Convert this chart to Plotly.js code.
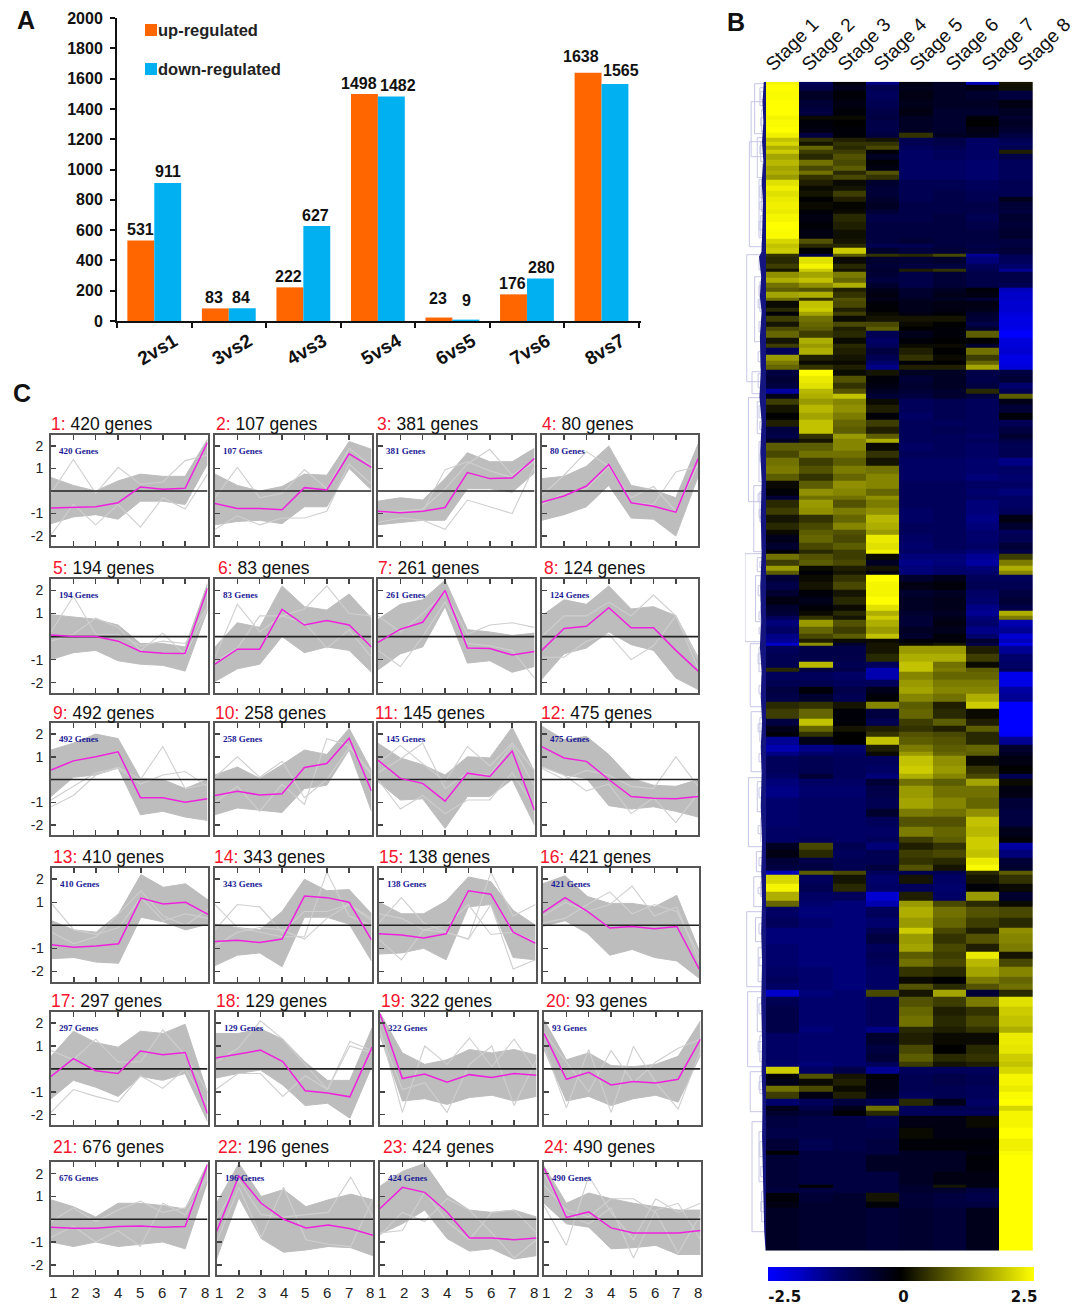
<!DOCTYPE html>
<html><head><meta charset="utf-8">
<script src="https://cdn.plot.ly/plotly-3.0.1.min.js"></script>
<style>html,body{margin:0;padding:0;background:#fff}#c{width:1083px;height:1306px}</style>
</head><body><div id="c"></div>
<script>
// ---------- Panel A data ----------
const comparisons=['2vs1','3vs2','4vs3','5vs4','6vs5','7vs6','8vs7'];
const upRegulated=[531,83,222,1498,23,176,1638];
const downRegulated=[911,84,627,1482,9,280,1565];

// ---------- Panel B data (row start, then stage 1..8 log ratio) ----------
const stageNames=['Stage 1','Stage 2','Stage 3','Stage 4','Stage 5','Stage 6','Stage 7','Stage 8'];
const heatRowCount=1169;
const heatBands=[
[0,2.4,-1.0,-.1,-1.4,-.2,-.4,-1.8,.2],[3,2.5,-.8,-.3,-.9,-.3,-.4,-.2,.15],[9,2.45,-.4,-.1,-1,-.2,-.4,-.5,-.7],
[18,2.5,-.6,-.2,-.9,-.3,-.4,-.4,-.2],[26,2.5,-.7,-.1,-.8,-.2,-.5,-.5,-.4],[34,2.4,.1,.1,-.7,-.4,-.5,-.1,-.5],
[38,2.45,-.1,.0,-.8,-.4,-.5,.0,-.4],[45,2.5,-.2,-.1,-.8,-.4,-.5,-.2,-.5],[51,2.35,-.7,-.1,-.7,.5,-.4,-.3,-.7],
[56,1.9,.5,.3,.2,-.9,-.8,-1.1,-.9],[60,2.1,.2,.5,.5,-.9,-.8,-1.1,-1],[64,1.7,1.0,.4,.7,-1,-.9,-1.1,-.9],
[68,2.0,.6,.6,-.1,-1.1,-1,-1.1,.3],[72,1.6,.4,.8,-.4,-1.1,-1,-1.1,-.8],[78,1.8,1.1,.7,-.1,-1.1,-1.1,-1.2,-1],
[84,1.6,.7,.9,-.2,-1.1,-1.1,-1.2,-1],[89,1.7,1.1,.4,.8,-1.1,-1.1,-1.2,-1],[93,1.5,.5,.7,.5,-1.1,-1.1,-1.2,-1],
[98,2.2,.3,.1,-.5,-.9,-.9,-1,-.9],[104,2.35,.1,.2,-.6,-.9,-.9,-1,-.9],[109,2.2,.2,.6,-.6,-.9,-.8,-.9,-.9],
[115,2.3,.0,.3,-.5,-.9,-.8,-.9,-.3],[120,2.35,.1,.05,-.4,-.8,-.8,-.8,-.6],[128,2.3,-.1,.1,-.6,-.8,-.8,-.8,-.7],
[132,2.4,-.2,.4,-.8,-.8,-.7,-.9,-.5],[140,2.5,-.1,.3,-.7,-.7,-.7,-.8,-.6],[148,2.45,-.2,.15,-.7,-.7,-.7,-.7,-.5],
[157,2.1,.8,.2,-.7,-.6,-.7,-.7,-.7],[162,1.9,.4,.4,-.9,-.9,-.7,-.8,-.7],[166,2.0,.0,2.0,-.5,-.7,-.6,-.7,-.6],
[172,.5,-.8,.9,.5,.4,.7,-1.5,-.9],[175,.4,2.2,.1,-.5,-.6,-.5,-1.3,-1],[182,.6,2.4,.4,-.6,-.7,-.7,-1,-1.2],
[187,.2,2.0,.2,-.5,.3,.5,-.9,-1.5],[190,1.4,1.6,1.2,-.6,-.8,-.6,-.8,-.8],[196,1.7,1.9,1.0,-.7,-.8,-.6,-.8,-.8],
[201,1.1,1.4,1.7,-.5,-.8,-.6,-.8,-.9],[206,.9,.8,.3,-.3,-.5,-.4,-.1,-1.8],[210,1.6,1.7,.5,-.2,-.5,-.3,-.2,-1.9],
[216,1.1,.5,.8,-.3,-.4,-.4,-.6,-1.9],[219,.1,1.9,.7,-.1,-.3,-.2,-.2,-2.0],[226,.4,2.0,.3,-.05,-.3,-.2,-.3,-2.0],
[230,-.1,1.6,.6,.1,-.2,-.1,-.5,-2.1],[234,.6,1.1,.1,.2,.2,.2,-.6,-2.2],[240,.2,1.0,.7,.7,.1,.0,-.8,-2.2],
[245,.7,.9,.3,.9,.0,-.1,-.5,-2.3],[249,1.0,.6,.4,-.9,-.3,-.1,.9,-2.5],[256,.2,1.7,.1,-1.1,-.1,.0,.0,-2.1],
[262,.6,1.5,.4,-1,.1,.1,-.5,-2.1],[266,-1.0,1.7,.3,-.7,.3,.0,1.1,-2.0],[273,1.5,.3,.2,-.9,.5,.1,.6,-2.2],
[279,1.2,.1,.1,-1.2,-.1,.0,1.0,-2.2],[283,1.0,.5,.3,-1.4,.3,.3,1.6,-2.1],[288,-.7,2.5,.1,.2,-.4,-.4,-.8,-.7],
[294,-.6,2.3,.8,-.1,-.6,-.4,-.8,-.6],[301,-.7,2.2,.5,-.2,-.5,-.4,-.7,-1.2],[307,-1.6,1.8,.8,-.4,-.6,-.5,.4,-.9],
[312,-.3,1.7,1.9,-.6,-.7,-.5,-.7,.9],[317,.6,1.5,1.3,.1,-1,-.9,-1,-.3],[323,.2,1.8,1.4,.3,-1,-.9,-1,-.6],
[331,.0,1.6,1.2,-.1,-1.1,-.9,-1,-.1],[338,.3,1.9,1.0,.6,-1,-1,-1,-.9],[345,-.7,1.9,.9,.3,-1,-.9,-1,-.7],
[352,-.8,.5,1.5,.9,-1,-1,-1.1,-.5],[357,-.4,.2,1.3,1.7,-1,-1,-1,-.8],[361,.9,.9,1.3,.1,-1.1,-1,-1.1,-.9],
[369,.7,1.1,1.1,.5,-1,-1,-1.1,-.9],[376,1.1,.6,.9,.2,-1.1,-1.1,-1.2,-1.4],[384,1.2,.8,1.2,1.1,-1.1,-1.1,-1.2,-1.1],
[392,.9,.5,1.0,1.3,-1.1,-1.1,-1.3,-1.2],[399,.1,.9,1.4,1.3,-1,-1,-1.1,-1.1],[407,-.1,1.4,1.3,1.0,-1,-1,-1.2,-1.3],
[414,-.6,1.1,1.1,1.4,-1,-1,-1.1,-1.1],[418,.4,1.5,.8,1.2,-1,-1,-1.3,-1.1],[426,.6,1.4,1.2,1.4,-1.1,-1,-1.3,-1.0],
[433,.2,.5,1.0,1.8,-1.1,-1,-1.4,-.2],[441,.4,.7,1.3,1.7,-1,-1,-1.3,-.5],[448,.1,.9,.8,1.5,-1,-1,-1.2,-1],
[453,-.3,1.0,.7,2.3,-1.1,-1,-1.2,-.9],[461,-.5,.7,.9,2.2,-1.2,-1,-1.1,-.6],[468,-.1,.4,.6,2.35,-1.1,-1.1,-1.3,-.8],
[472,1.1,.8,.6,.1,-1.3,-1.3,-1.5,.6],[478,.6,.9,.7,-.4,-1.4,-1.3,-1.6,1.2],[484,1.5,.1,.3,.2,-1.3,-1.2,-1.3,1.7],
[489,.9,-.1,.2,-.2,-1.3,-1.2,-1.2,1.3],[493,-.6,.1,.5,2.5,-.5,-.3,-1,-1],[500,-.8,.2,.7,2.4,-.2,-.1,-.9,-.9],
[508,-.5,-.1,.2,2.4,-.5,-.4,-1.1,-.7],[515,-.2,-.3,.4,2.5,-.4,-.3,-1.2,-.6],[523,-.5,-.1,.1,2.2,-.4,-.3,-1.4,-.8],
[529,-.6,.1,.4,1.7,-.5,-.4,-1.5,1.7],[534,-1.0,.5,.2,2.0,-.6,-.3,-1.3,1.2],[538,-1.3,1.5,.8,1.7,-.6,-.2,-1.2,-1.7],
[545,-1.1,1.0,.6,1.5,-.4,-.3,-1.4,-1.5],[552,-1.4,.7,.9,1.9,-.5,-.1,-1.2,-2.0],[557,-1.5,.3,.1,.1,-.1,-.1,-.5,-1.8],
[561,-1.9,1.4,-.5,.2,.1,.2,-.8,-2.2],[564,-1.0,-.8,-.8,.2,1.5,1.5,.3,-1.5],[572,-.9,-.8,-.8,.4,1.7,1.7,.6,-1.2],
[580,-.9,1.8,-.9,-1,1.9,1.1,.1,-1.1],[586,.4,-.7,-.8,-1.7,1.9,1.2,.9,-1.0],[590,-1.0,-1,-1.1,-1.7,1.3,1.0,1.0,-2.3],
[598,-.9,-.9,-1,-1,1.5,1.2,1.2,-2.2],[605,-.7,-.1,-.8,-.3,1.6,1.3,1.3,-1.6],[612,-.8,-.5,-.9,-.1,1.3,1.1,1.7,-1.5],
[620,.4,.5,.2,1.3,.9,.3,2.0,-2.5],[627,.6,1.0,-.1,-.7,1.0,.4,.1,-2.5],[637,-.7,1.9,-.1,-.9,.6,.9,.3,-2.5],
[644,-.3,1.0,.2,.3,.5,.3,.9,-2.5],[650,-.1,.5,.0,.5,.8,.7,.4,-2.4],[655,-1.5,-.3,.0,1.9,.9,.8,.4,-1.5],
[663,-1.7,-1.4,-1.2,.3,1.2,.9,1.0,-.5],[670,-1.4,-1.2,-1.1,.1,1.5,1.0,.9,-.4],[674,-1,-.9,-1,-1,1.9,1.4,.1,-.2],
[684,-1,-.9,-1,-1.1,2.0,1.5,.5,.0],[692,-1.1,-.6,-1,-1.3,1.7,1.3,.7,-.9],[697,-1.3,-1.1,-1.1,-.6,1.1,.9,1.6,.1],
[704,-1.4,-1.2,-1.2,-.8,1.5,1.1,1.1,-.2],[716,-1.2,-1.1,-1.1,-.9,1.6,1.3,1.0,-.6],[727,-1.2,-1.1,-1.1,-.5,1.2,1.1,1.4,-.7],
[735,-1.2,-1.1,-1.1,-1,.8,.8,1.9,-.7],[745,-1.1,-1.1,-1.1,-1.1,1.2,1.0,1.8,-.3],[755,-1.1,-1,-1.1,-1,.6,.9,2.0,-.1],
[761,-.4,.7,-.9,-1.3,.3,.5,2.0,-1.6],[768,-.2,.4,-1,-.9,.6,.7,1.9,-1.3],[776,-.6,-.8,-.9,-.9,.5,.4,2.3,-.6],
[783,-.7,-.7,-.9,-.7,.8,.2,2.45,-.5],[789,-1.8,.9,.7,-1,-.9,-.9,.4,.9],[793,2.1,-1.0,.2,-1.2,.2,-1.1,.2,.5],
[802,2.4,-.9,.4,-1.1,-1,-1.2,-.1,.1],[810,1.7,-1.1,-1,-2.0,.3,-1.1,1.5,-.5],[819,1.0,-1.2,-1.3,-1.7,1.5,.7,.4,.1],
[825,-1.1,-1.3,-1.3,-1,1.7,1.1,.8,.7],[836,-1.0,-1.2,-1.3,-1.2,1.5,1.0,.6,.4],[846,-1.3,-1.3,-1.3,-.9,2.0,.7,.3,1.4],
[852,-1.3,-1.3,-1.3,-.7,1.5,.5,.8,1.3],[862,-1.2,-1.3,-1.3,-1.0,1.6,.7,.3,1.2],[870,-1.2,-1.3,-1.3,-.9,.9,.6,2.3,.2],
[877,-1.2,-1.3,-1.3,-1,1.1,.7,1.8,.7],[885,-1.1,-1.2,-1.3,-1.1,.5,.4,1.6,1.3],[895,-1.0,-1.2,-1.3,-1.1,.1,.0,1.2,1.0],
[902,-1.1,-1.2,-1.3,-1.1,.8,.4,.8,1.1],[908,-1.9,-1.3,-1.2,.7,.2,1.6,-.6,.4],[915,-.9,-1.2,-1.2,-1,.8,.6,1.2,2.2],
[925,-.8,-1.2,-1.2,-1,1.0,.3,.5,2.0],[934,-.8,-1.2,-1.2,-1,1.1,.4,.7,1.9],[945,-.8,-1.3,-1.2,-1.4,.4,.3,.5,1.7],
[951,-1.1,-1.2,-1.2,-.5,.3,.1,.1,2.3],[963,-1.1,-1.2,-1.2,-.7,.7,.0,.4,2.25],[972,-1.1,-1.2,-1.2,-.6,.9,.4,.5,2.0],
[980,-1.2,-1.3,-1.2,-1,.6,.2,.3,1.9],[985,2.0,-1.1,-.8,-1.5,-1,-1,-1,2.1],[992,-.1,.8,.2,-.1,-.9,-.8,-.9,2.4],
[997,-.3,.1,.3,-.2,-.9,-.8,-.9,2.4],[1004,1.1,.7,.1,-.2,-.9,-.9,-1,2.3],[1010,.6,-.2,.3,-.3,-1,-.9,-1,2.45],
[1017,-1.2,-1,-.7,-.9,.4,-.3,-1.1,2.5],[1024,-.3,-.8,-.3,1.1,-1,-.9,-.9,2.1],[1029,-.5,-.6,.0,.4,-1,-1,-1,2.4],
[1034,-.7,-.8,-.8,-.9,-.2,-.2,.1,2.4],[1046,-.8,-.8,-.8,-.8,.1,-.2,-.2,2.5],[1057,-.6,-.9,-.8,-.7,-.1,-.1,-.1,2.35],
[1069,.0,-.7,-.7,-.7,-.4,-.4,-.2,2.45],[1073,-.6,-.7,-.7,-.4,-.4,-.4,-.1,2.5],[1090,-.6,-.7,-.7,-.7,-.4,-.2,-.2,2.5],
[1103,-.6,.0,-.7,-.7,-.5,.2,-.2,2.5],[1106,-.7,-.7,-.7,-.7,-.5,-.5,-.7,2.5],[1111,-.1,-.6,-.5,.2,-.6,-.7,-.8,2.5],
[1120,-.2,-.5,-.5,-.1,-.6,-.7,-.7,2.5],[1126,-.4,-.5,-.5,-.6,-.5,-.6,-.3,2.5]
];
// dendrogram: [first row, last row, distance from the heat map]
const dendroBrackets=[[2,52,13],[6,24,7],[28,50,5],[20,75,17],[56,96,10],[60,80,6],[82,94,4],[60,165,19],[98,156,8],[102,130,5],[134,154,6],[160,172,5],
[173,300,22],[178,188,8],[195,260,13],[200,230,7],[236,258,5],[264,286,6],[290,312,16],[292,306,9],[316,420,20],[320,352,10],[360,400,8],[366,390,4],[404,470,14],[410,440,7],[446,468,5],
[472,560,24],[476,490,10],[494,540,12],[500,520,6],[524,556,6],[562,625,18],[566,590,8],[594,620,5],[630,690,17],[636,660,7],[666,688,5],[696,765,20],[700,730,10],[736,760,6],
[770,790,11],[795,825,14],[800,815,6],[830,905,22],[836,860,12],[866,900,9],[872,888,4],[910,985,21],[916,950,10],[954,980,7],[990,1030,18],[994,1012,7],[1018,1028,4],[1040,1150,16],[1050,1100,8],[1110,1140,5],
[10,18,6],[36,44,6],[64,72,7],[104,116,7],[120,128,7],[140,148,8],[204,214,8],[218,226,9],[240,250,8],[270,280,9],[324,336,8],[340,348,7],[372,380,7],[412,420,9],[428,436,8],[480,486,7],[504,514,9],[530,538,8],[546,552,8],[572,582,9],[604,612,8],[642,650,9],[672,680,8],[706,716,8],[744,752,9],[776,784,8],[806,812,9],[842,852,8],[876,884,8],[922,932,8],[960,970,9],[1000,1008,8],[1060,1075,7],[1085,1095,6],[1120,1130,6]];
const fringeRow=[0,20,40,60,80,100,120,140,170,175,195,215,230,255,290,315,340,370,400,435,470,505,540,565,590,615,640,665,690,725,760,790,820,850,880,920,960,990,1020,1055,1090,1120,1150,1169];
const fringeWidth=[2.5,4,3,4.5,3,5,3.5,4,5,8,5.5,7,5,7,6,7.5,5,6.5,5,6,5,6.5,5.5,7,5,6,4.5,6,5,6,4.5,5.5,4.5,5.5,4.5,5.5,4.5,5,4,4.5,3.5,3,2,.5];

// ---------- Panel C data ----------
const geneCounts=[420,107,381,80,194,83,261,124,492,258,145,475,410,343,138,421,297,129,322,93,676,196,424,490];
const stages=[1,2,3,4,5,6,7,8];
const profileMean=[
[-.75,-.72,-.7,-.52,.18,.08,.12,2.15],[-.55,-.78,-.78,-.83,.15,.05,1.65,1.05],[-.9,-.97,-.9,-.73,.82,.55,.58,1.45],[-.5,-.22,.22,1.18,-.52,-.68,-.94,1.45],
[.07,0,0,-.2,-.65,-.72,-.73,2.1],[-1.2,-.55,-.55,1.18,.5,.7,.5,-.45],[-.25,.32,.62,2.0,-.5,-.52,-.8,-.65],[-.6,.35,.45,1.25,.38,.38,-.6,-1.5],
[.42,.82,1.0,1.22,-.8,-.8,-1,-.85],[-.7,-.52,-.68,-.63,.53,.7,1.82,-.5],[.85,.05,-.17,-.95,.28,.13,1.25,-1.35],[1.45,.95,.8,0,-.75,-.82,-.85,-.75],
[-.85,-.95,-.9,-.8,1.18,.92,1.0,.47],[-.7,-.65,-.75,-.6,1.27,1.2,1,-.63],[-.37,-.42,-.55,-.37,1.5,1.35,-.3,-.78],[.55,1.2,.6,-.12,-.05,-.15,-.05,-1.9],
[-.33,.45,-.08,-.2,.78,.62,.72,-1.95],[.48,.65,.82,.32,-.95,-1.05,-1.22,.95],[2.4,-.42,-.22,-.58,-.25,-.37,-.2,-.28],[1.55,-.45,-.15,-.7,-.55,-.62,-.45,1.3],
[-.35,-.4,-.4,-.32,-.3,-.35,-.32,2.4],[-.55,1.9,.7,0,-.38,-.25,-.42,-.7],[.47,1.4,1.18,.32,-.82,-.82,-.9,-.82],[2.25,.08,.32,-.38,-.6,-.6,-.6,-.5]];
const profileUpper=[
[.6,.25,.0,.45,.75,.65,.65,2.3],[.75,.25,0,.2,.75,.7,2.2,1.85],[-.45,-.3,-.4,.55,1.7,1.3,1.3,1.9],[.55,.65,1.1,2.0,.25,.05,-.3,2.1],
[.95,.85,.75,.5,-.3,-.3,-.45,2.3],[-.45,.6,.4,2.2,1.3,1.15,1.85,.8],[.75,1.4,1.6,2.45,.3,.2,.05,.15],[.9,1.6,1.4,2.2,1.2,1.3,.9,-.9],
[1.3,1.6,2.0,1.8,.05,0,-.4,0],[.2,.55,.05,.65,1.3,1.1,2.25,.4],[1.6,.95,.65,.2,1.0,.95,2.3,.35],[2.35,1.75,1.9,1.1,.05,-.25,-.3,0],
[.2,-.2,-.3,.5,2.2,1.65,1.8,1.1],[.05,-.1,-.2,.6,2,1.5,1.55,.5],[1,.5,.5,1.05,2.1,1.9,.65,0],[1.8,2.15,1.25,.95,.95,.8,1.3,-1.1],
[.55,1.65,1.15,.95,1.65,1.55,1.95,-1.05],[1.55,1.55,1.75,1.3,.3,-.5,-.5,1.8],[2.45,.7,.2,.4,.85,.7,.85,.6],[2.15,.4,.7,.15,.1,.2,.55,2.1],
[.85,.55,.1,.7,.7,.6,.45,2.45],[.7,2.45,1,1.3,.55,.85,1.1,.85],[1.45,2.1,2.45,1.05,.4,.3,.4,.1],[2.35,.7,1.15,.9,.7,.55,.4,.4]];
const profileLower=[
[-1.45,-1.15,-1.05,-1.25,-.45,-.45,-.6,1.2],[-1.5,-1.35,-1.3,-1.45,-.7,-.7,1.0,.05],[-1.5,-1.4,-1.3,-1.3,.1,.1,-.05,.8],[-1.3,-1.05,-.7,.25,-1.2,-1.25,-2,.65],
[-1,-.7,-.6,-1.05,-1.2,-1.25,-1.5,1.15],[-1.95,-1.4,-1.2,0,-.7,-.45,-.6,-1.55],[-1.45,-.75,-.45,1.3,-1.15,-1.05,-1.55,-1.3],[-1.85,-.75,-.5,.2,-.35,-.6,-1.8,-2.3],
[-.75,.1,.2,.5,-1.55,-1.4,-1.65,-1.8],[-1.55,-1.25,-1.35,-1.45,-.4,-.25,1.3,-1.4],[-.1,-.9,-.85,-2.15,-.75,-.75,0,-2],[.6,.2,.05,-1.15,-1.3,-1.2,-1.4,-1.65],
[-1.45,-1.4,-1.6,-1.65,.35,.15,-.2,.05],[-1.75,-1.3,-1.2,-1.8,.35,.35,.05,-1.55],[-1.25,-1.2,-1,-1.5,.8,.9,-1.4,-1.5],[-.05,.2,-.35,-1.3,-1.05,-1.4,-1.55,-2.3],
[-1.3,-.5,-.8,-1.2,-.33,-.5,-.2,-2.3],[-.4,-.2,-.05,-.7,-1.6,-1.5,-2.15,.15],[1.45,-1.4,-1.3,-1.55,-1.25,-1.15,-1.4,-1.2],[.85,-1.4,-1.2,-1.6,-1.3,-1.15,-1.45,.6],
[-1,-1.2,-1,-1.2,-1.1,-1,-1.3,1.65],[-1.75,.95,-.85,-1.45,-1.35,-1.2,-1.25,-1.6],[-.65,-.2,.4,-.85,-1.4,-1.3,-1.75,-1.6],[.7,-.2,-.35,-1.3,-1.25,-1.15,-1.55,-1.55]];
const profileOutliers=[
[[-.1,1.4,-.1,1.05,.3,.4,1.35,1.6],[-1.95,-.6,-1.5,-.6,-1.6,-.3,-.8,.75]],
[[-.3,1.05,-.3,-.1,.95,.1,1.9,1.1],[-1.7,-1.1,-1.5,-1.2,-1.2,-.9,1.2,.3]],
[[-1,-.9,-.9,.95,1.3,.9,.6,1.3],[-1.4,-1.2,-1.3,-1.7,-.4,-.7,-1,1.1],[-.9,-.9,-.8,.1,1.2,1.85,.7,1.4]],
[[-.2,.7,1.75,1.1,-.3,.2,-.9,1.2],[-.6,-.1,.1,1.1,-.5,-.6,.85,1.1]],
[[.2,1.75,.1,.1,-.4,-.2,-.3,1.3],[-.2,.1,.8,.4,-.6,.15,-.8,1.2]],
[[-.9,1.4,.2,.9,1.2,2.2,1.0,.9],[-1.1,-.5,.9,.9,.6,-.5,.3,-.9]],
[[-.6,-1.3,0,1.5,-.3,-.4,-.6,-1.8],[.9,.2,1,1.9,.1,.5,.6,.4]],
[[-.9,-.9,-.2,.1,-1,-.4,.9,-1],[0,.9,.9,1.5,.9,1.8,.9,-1.4]],
[[-1.2,-.7,.2,.55,0,1.45,-.4,-.2],[-.9,-.3,.3,.5,-.2,.2,.35,-.3]],
[[.1,1.0,.1,.8,-.8,0,1.4,.3],[-1,-.3,-1.4,-.2,-1.1,1.8,1.5,.2]],
[[.3,.9,1.6,-.4,.3,.2,1.5,-.3],[0,-1.3,-.7,-1.5,-.9,-.9,.3,-1.2],[.7,1.5,.7,-.1,1.45,.6,1.6,.4]],
[[.5,0,.4,.2,-.3,-.4,1.0,-.3],[.55,.2,-.5,-.2,-1.5,-.8,-1.9,-.6]],
[[.95,-.2,-.4,-.1,1.2,.2,.5,.3],[-.3,-.8,-.5,.5,1.5,.4,0,.7]],
[[-.2,.9,.8,-.3,.6,.6,.9,.3],[.9,-.1,-.3,-.5,-.5,2.3,.4,0],[-.9,-.3,-.1,-.2,-.6,.3,.9,.2]],
[[.1,1.2,.1,-.3,-.6,2.3,.4,.9],[-.6,-1.5,-.2,-.3,-.6,.9,-1.9,-1.5],[.5,.3,-.2,0,.9,-.4,-.3,-.7]],
[[.1,.3,.9,1.45,.5,.9,.6,-1.3],[.4,1.0,.6,.9,1.7,.4,.8,-1.6]],
[[-1.9,-.9,-1.2,-1.45,-.3,-.85,0,-1.6],[.8,.4,1.3,.3,.3,1.7,.6,-1]],
[[.3,.9,2.1,1.3,.2,-.9,1.2,.8],[-.9,-.2,-.2,-1.2,-.3,-.9,1.0,.7]],
[[1.7,-1.9,1.0,.2,1.35,.1,1.3,-.1],[1.6,-.9,-.6,-1.9,.2,1.0,-1.6,.4]],
[[1,-1.7,.85,-1.9,.98,-.6,-1.75,.8],[1.6,.3,-1,.8,-.6,.3,.9,1.3]],
[[-.1,.5,-.1,.4,.8,.3,.5,1.9],[-.8,-.3,-1,-.5,-1.2,.7,.2,1.8]],
[[0,1.7,.2,.1,.2,.3,1.85,.1],[-1,1.4,-.8,1.4,-.9,-1.1,-1.2,.9]],
[[-.6,-.5,1.2,-.1,-.9,.3,.4,-.6],[-.7,.3,-.1,.9,.4,-.6,-1.7,-.9]],
[[.6,-1.15,1.9,.3,-.9,.9,.3,.7],[1.5,.4,.1,.9,.9,.3,-1.5,.2],[2,.2,-.2,.5,-1.7,.4,.7,-.9]]];

// ---------- Layout helpers ----------
const W=1083,H=1306, SANS='"Liberation Sans",Arial,sans-serif';
const xd=(a,b)=>[a/W,b/W], yd=(t,b)=>[1-b/H,1-t/H];
const px=x=>x/W, py=y=>1-y/H;
const BLACK='#111';
const traces=[],annotations=[],shapes=[];
const layout={width:W,height:H,margin:{l:0,r:0,t:0,b:0},paper_bgcolor:'#fff',plot_bgcolor:'#fff',showlegend:false,
  font:{family:SANS,color:BLACK},bargap:.278,bargroupgap:0,barmode:'group'};
const txt=(x,y,text,size,o={})=>annotations.push(Object.assign({xref:'paper',yref:'paper',x:px(x),y:py(y),text,showarrow:false,
  xanchor:'left',yanchor:'middle',font:{family:SANS,size,color:BLACK},borderpad:0},o));

// ---------- Panel A ----------
const barL=117,barR=641;
layout.xaxis={domain:xd(barL,barR),anchor:'y',type:'category',categoryorder:'array',categoryarray:comparisons,tickson:'boundaries',
  ticks:'outside',ticklen:5,tickwidth:2,tickcolor:BLACK,linecolor:BLACK,linewidth:2,showgrid:false,tickangle:-30,ticklabelshift:20,
  tickfont:{family:SANS,size:19,color:BLACK,weight:'bold'},fixedrange:true};
layout.yaxis={domain:yd(18,321),anchor:'x',range:[0,2000],dtick:200,ticks:'outside',ticklen:5,tickwidth:2,tickcolor:BLACK,linecolor:BLACK,
  linewidth:2,showgrid:false,zeroline:false,ticklabelstandoff:4,tickfont:{family:SANS,size:16,color:BLACK,weight:'bold'},fixedrange:true};
traces.push({type:'bar',name:'up-regulated',x:comparisons,y:upRegulated,marker:{color:'#ff6600'},xaxis:'x',yaxis:'y'});
traces.push({type:'bar',name:'down-regulated',x:comparisons,y:downRegulated,marker:{color:'#00b0f0'},xaxis:'x',yaxis:'y'});
const upLabelDx=[0,-1,-1,-5,-1,-1,-7], downLabelDx=[0,-1,-1,7,1,1,6];
const upLabelDy=[11,11,11,11,19,11,16], downLabelDy=[11,11,11,11,19,11,13];
comparisons.forEach((c,i)=>{
  [[upRegulated,-13.5,upLabelDx,upLabelDy],[downRegulated,13.5,downLabelDx,downLabelDy]].forEach(([s,off,dx,dy])=>{
    annotations.push({xref:'x',yref:'y',x:c,y:s[i],text:String(s[i]),showarrow:false,xshift:off+dx[i],yshift:dy[i],
      font:{family:SANS,size:16,color:BLACK,weight:'bold'},yanchor:'middle',xanchor:'center'});
  });
});
shapes.push({type:'rect',xref:'paper',yref:'paper',x0:px(145),x1:px(157),y0:py(36),y1:py(24),fillcolor:'#ff6600',line:{width:0}});
shapes.push({type:'rect',xref:'paper',yref:'paper',x0:px(145),x1:px(157),y0:py(75),y1:py(63),fillcolor:'#00b0f0',line:{width:0}});
txt(157,30,'up-regulated',16.5,{font:{family:SANS,size:16.5,color:'#222',weight:'bold'}});
txt(157,69,'down-regulated',16.5,{font:{family:SANS,size:16.5,color:'#222',weight:'bold'}});
txt(16,20,'A',25,{font:{family:SANS,size:25,color:BLACK,weight:'bold'}});
txt(726,22,'B',25,{font:{family:SANS,size:25,color:BLACK,weight:'bold'}});
txt(12,393,'C',25,{font:{family:SANS,size:25,color:BLACK,weight:'bold'}});

// ---------- Panel B ----------
const heatY=heatBands.map(b=>b[0]).concat([heatRowCount]);
const heatZ=heatBands.map(b=>b.slice(1));
const colPos=[1,2,3,4,5,6,7,8];
layout.xaxis2={domain:xd(766,1032.7),anchor:'y2',side:'top',range:[.5,8.5],showgrid:false,zeroline:false,showline:false,ticks:'',
  tickmode:'array',tickvals:stageNames.map((s,i)=>.52+i*1.08),ticktext:stageNames,tickangle:-45,ticklabelstandoff:2,
  tickfont:{family:SANS,size:19,color:BLACK},fixedrange:true};
layout.yaxis2={domain:yd(81.7,1250.7),anchor:'x2',range:[heatRowCount,0],showticklabels:false,showgrid:false,zeroline:false,showline:false,ticks:'',fixedrange:true};
traces.push({type:'heatmap',x:colPos,y:heatY,z:heatZ,xaxis:'x2',yaxis:'y2',zmin:-2.5,zmax:2.5,
  colorscale:[[0,'#0000ff'],[.12,'#0000c8'],[.25,'#000072'],[.5,'#000000'],[.75,'#808000'],[1,'#ffff00']],
  colorbar:{orientation:'h',x:px(767.7),xanchor:'left',y:py(1266.7),yanchor:'top',len:266.3,lenmode:'pixels',thickness:13.5,thicknessmode:'pixels',
    xpad:0,ypad:0,outlinewidth:0,ticks:'outside',ticklen:3,tickwidth:0,tickcolor:'#fff',tickmode:'array',tickvals:[-2.18,.05,2.32],ticktext:['-2.5','0','2.5'],
    tickfont:{family:'"DejaVu Sans"',size:15,color:BLACK,weight:'bold'}}});
layout.xaxis3={domain:xd(745,766),anchor:'y3',range:[24,0],visible:false,fixedrange:true};
layout.yaxis3={domain:yd(81.7,1250.7),anchor:'x3',range:[heatRowCount,0],visible:false,fixedrange:true};
const dx=[],dy=[];
dendroBrackets.forEach(([a,b,d])=>{dx.push(2,d,d,2,null);dy.push(a,a,b,b,null);});
traces.push({type:'scatter',mode:'lines',x:dx,y:dy,xaxis:'x3',yaxis:'y3',line:{color:'#c6c6e6',width:1},hoverinfo:'skip'});
traces.push({type:'scatter',mode:'lines',x:fringeWidth.concat([0,0]),y:fringeRow.concat([heatRowCount,0]),xaxis:'x3',yaxis:'y3',fill:'toself',
  fillcolor:'#15157f',line:{color:'#15157f',width:0},hoverinfo:'skip'});

// ---------- Panel C ----------
const panelLefts=[[51,215,378,541.7],[51,215,378,541.7],[51,215,378,541.7],[51.5,215,379,542.7],[51,215.7,380,544],[51,216.5,380,544]];
const panelTops=[434.7,579,722.7,867.7,1011.7,1162.3], panelH=[111.5,114,112.5,114,113.3,112.7], panelW=156.5;
const titleCy=[424,568,713,857,1001,1147];
const titleLefts=[[50,215,376,541],[52,217,377,543],[52,214,374,540],[52,213,378,539],[50,215,380,545],[52,217,382,543]];
const stageLabelStep=21.7;
geneCounts.forEach((g,i)=>{
  const r=Math.floor(i/4),c=i%4,id=i+4,xn='x'+id,yn='y'+id;
  const L=panelLefts[r][c],T=panelTops[r];
  layout['xaxis'+id]={domain:xd(L,L+panelW),anchor:yn,range:[1,8],tickmode:'array',tickvals:stages,ticks:'inside',ticklen:5,tickwidth:1.5,tickcolor:'#444',
    showline:true,linecolor:'#555',linewidth:2,mirror:'ticks',showgrid:false,zeroline:false,showticklabels:false,fixedrange:true};
  layout['yaxis'+id]={domain:yd(T,T+panelH[r]),anchor:xn,range:[-2.45,2.5],tickmode:'array',tickvals:[-2,-1,1,2],ticktext:['-2','-1','1','2'],ticks:'inside',ticklen:5,tickwidth:1.5,
    tickcolor:'#444',showline:true,linecolor:'#555',linewidth:2,mirror:true,showgrid:false,zeroline:false,showticklabels:c===0,ticklabelstandoff:3,
    tickfont:{family:SANS,size:14,color:'#222'},fixedrange:true};
  const base={type:'scatter',mode:'lines',x:stages,xaxis:xn,yaxis:yn,hoverinfo:'skip'};
  traces.push(Object.assign({},base,{y:profileUpper[i],line:{color:'#bdbdbd',width:1}}));
  traces.push(Object.assign({},base,{y:profileLower[i],fill:'tonexty',fillcolor:'#bdbdbd',line:{color:'#bdbdbd',width:1}}));
  profileOutliers[i].forEach(o=>traces.push(Object.assign({},base,{y:o,line:{color:'#cfcfcf',width:1.1}})));
  traces.push(Object.assign({},base,{y:stages.map(()=>0),line:{color:'#222',width:1.6}}));
  traces.push(Object.assign({},base,{y:profileMean[i],line:{color:'#ee22dd',width:1.5},name:'cluster '+(i+1)}));
  txt(titleLefts[r][c],titleCy[r],'<span style="color:#f5142d">'+(i+1)+':</span> '+g+' genes',17.5,{font:{family:SANS,size:17.5,color:'#111'}});
  txt(L+7,T+16,g+' Genes',9,{font:{family:'"Liberation Serif",serif',size:9,color:'#1a1a96',weight:'bold'}});
  if(r===5) stages.forEach(s=>txt(L+2+(s-1)*stageLabelStep,1292,String(s),15,{xanchor:'center',font:{family:SANS,size:15,color:'#222'}}));
});
layout.annotations=annotations;layout.shapes=shapes;
Plotly.newPlot('c',traces,layout,{staticPlot:true,displayModeBar:false});
</script></body></html>
